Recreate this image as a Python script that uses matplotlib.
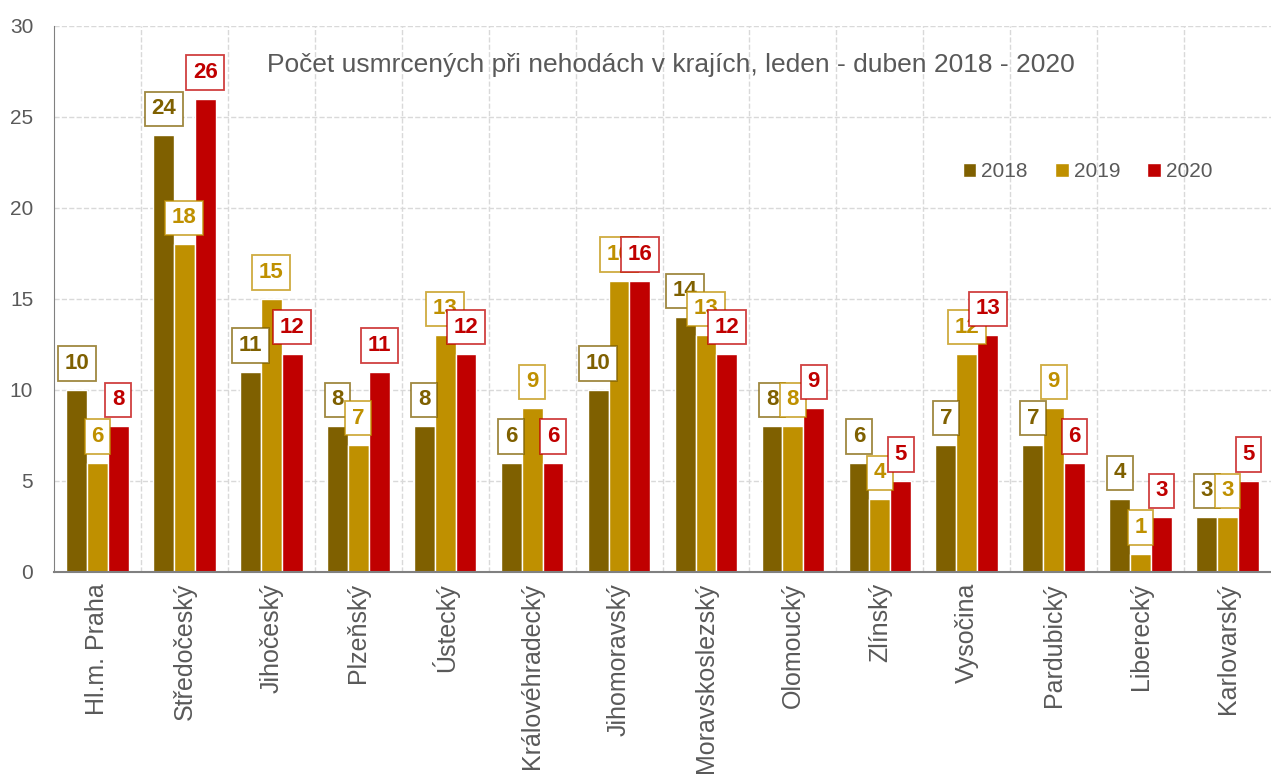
import numpy as np
import matplotlib.pyplot as plt
from matplotlib.colors import to_rgba

# data
kraje = ['Hl.m. Praha', 'Středočeský', 'Jihočeský', 'Plzeňský', 'Ústecký',
         'Královéhradecký', 'Jihomoravský', 'Moravskoslezský', 'Olomoucký',
         'Zlínský', 'Vysočina', 'Pardubický', 'Liberecký', 'Karlovarský']
roky = ['2018', '2019', '2020']
v2018 = [10, 24, 11, 8, 8, 6, 10, 14, 8, 6, 7, 7, 4, 3]
v2019 = [6, 18, 15, 7, 13, 9, 16, 13, 8, 4, 12, 9, 1, 3]
v2020 = [8, 26, 12, 11, 12, 6, 16, 12, 9, 5, 13, 6, 3, 5]
barvy = ['#7F6000', '#BF9000', '#C00000']
seda = '#595959'

plt.rcParams['font.family'] = ['Liberation Sans', 'DejaVu Sans']

fig = plt.figure(figsize=(12.71, 7.8), dpi=100)
ax = fig.add_axes([0.0425, 0.2667, 0.9575, 0.7])

x = np.arange(len(kraje))
w = 0.24
serie = [v2018, v2019, v2020]
for i, (vals, c, rok) in enumerate(zip(serie, barvy, roky)):
    pos = x + (i - 1) * w
    ax.bar(pos, vals, w, color=c, edgecolor='white', linewidth=1, label=rok, zorder=2)
    # popisky hodnot v ramecku
    for px, v in zip(pos, vals):
        ax.annotate(str(v), (px, v), xytext=(0, 19), textcoords='offset points',
                    ha='center', va='center', fontsize=16, fontweight='bold', color=c,
                    bbox=dict(boxstyle='square,pad=0.3', fc='white',
                              ec=to_rgba(c, 0.75), lw=1.3),
                    zorder=3 + i)

ax.set_xlim(-0.5, len(kraje) - 0.5)
ax.set_ylim(0, 30)
ax.set_yticks(range(0, 31, 5))
ax.set_xticks(x)
ax.set_xticklabels(kraje, rotation=90, fontsize=18, color=seda)
ax.tick_params(axis='y', labelsize=15, labelcolor=seda, length=0, pad=15)
ax.tick_params(axis='x', length=0, pad=8)

ax.grid(axis='y', color='#D9D9D9', linestyle='--', linewidth=1, zorder=0)
ax.set_xticks(np.arange(0.5, len(kraje) - 0.5), minor=True)
ax.grid(axis='x', which='minor', color='#D9D9D9', linestyle='--', linewidth=1, zorder=0)
ax.tick_params(axis='x', which='minor', length=0)
ax.set_axisbelow(True)

for s in ['top', 'right']:
    ax.spines[s].set_visible(False)
ax.spines['left'].set_color('#808080')
ax.spines['bottom'].set_color('#808080')
ax.spines['bottom'].set_linewidth(1.5)

ax.text(0.507, 0.929, 'Počet usmrcených při nehodách v krajích, leden - duben 2018 - 2020',
        transform=ax.transAxes, ha='center', va='center', fontsize=19, color=seda)

leg = ax.legend(loc='center right', bbox_to_anchor=(0.952, 0.733), ncol=3, frameon=False,
                fontsize=15, handlelength=0.65, handleheight=0.65, handletextpad=0.25,
                columnspacing=1.3, borderpad=0, borderaxespad=0)
for t in leg.get_texts():
    t.set_color(seda)

fig.savefig('out.png', dpi=100)
